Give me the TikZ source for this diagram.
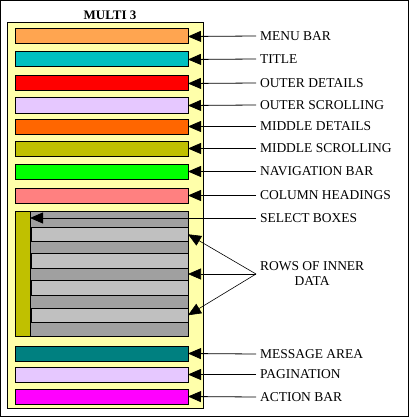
\documentclass[tikz,border=0pt]{standalone}
\usepackage{fontspec}
\setmainfont{Liberation Serif}
\usetikzlibrary{arrows.meta}
\definecolor{panel}{RGB}{255,255,170}
\definecolor{cmenu}{RGB}{255,165,80}
\definecolor{ctitle}{RGB}{0,192,192}
\definecolor{codet}{RGB}{255,0,0}
\definecolor{coscr}{RGB}{230,200,255}
\definecolor{cmdet}{RGB}{255,102,0}
\definecolor{cmscr}{RGB}{192,192,0}
\definecolor{cnav}{RGB}{0,255,0}
\definecolor{ccol}{RGB}{255,128,128}
\definecolor{cdark}{RGB}{160,160,160}
\definecolor{clight}{RGB}{192,192,192}
\definecolor{cmsg}{RGB}{0,128,128}
\definecolor{cpag}{RGB}{230,200,255}
\definecolor{cact}{RGB}{255,0,255}
\tikzset{
  bar/.style={draw=black, line width=1pt, anchor=north west, minimum width=173pt, minimum height=15pt, inner sep=0pt, outer sep=0pt},
  lbl/.style={anchor=west, inner sep=0pt, outer sep=0pt, font=\fontsize{13.5}{15}\selectfont},
  arr/.style={draw=black, line width=0.8pt, -{Triangle[length=13pt,width=11pt]}},
  thin arr/.style={draw=black, line width=0.6pt, -{Triangle[length=13pt,width=11pt]}},
  lightrow/.style={fill=clight, draw=black, line width=1pt, anchor=north west, minimum width=157pt, minimum height=14.5pt, inner sep=0pt, outer sep=0pt},
}
\begin{document}
\begin{tikzpicture}[x=1pt,y=-1pt]
\useasboundingbox (0,0) rectangle (415,417);
% outer frame
\draw[line width=1pt] (0.5,0.5) rectangle (408,416);
\node[font=\bfseries\fontsize{13}{14}\selectfont, inner sep=0pt] (title) at (110,15) {MULTI 3};
% panel
\draw[fill=panel, line width=1pt] (7,23) rectangle (203,408);
% bars
\node[bar, fill=cmenu] (mb) at (15,29) {};
\node[bar, fill=ctitle] (ti) at (15,52) {};
\node[bar, fill=codet] (od) at (15,76) {};
\node[bar, fill=coscr] (os) at (15,98) {};
\node[bar, fill=cmdet] (md) at (15,119) {};
\node[bar, fill=cmscr] (ms) at (15,141) {};
\node[bar, fill=cnav] (nb) at (15,164) {};
\node[bar, fill=ccol] (ch) at (15,188) {};
% rows block
\node[draw=black, line width=1pt, fill=cdark, anchor=north west, minimum width=173pt, minimum height=125pt, inner sep=0pt, outer sep=0pt] (blk) at (15,211) {};
\node[draw=black, line width=1pt, fill=cmscr, anchor=north west, minimum width=15pt, minimum height=125pt, inner sep=0pt, outer sep=0pt] (strip) at (15,211) {};
\node[lightrow] (r1) at (31,227) {};
\node[lightrow] (r2) at (31,253.5) {};
\node[lightrow] (r3) at (31,280.5) {};
\node[lightrow] (r4) at (31,308) {};
\draw[line width=1.5pt] (31,227) -- (31,241.5) (31,253.5) -- (31,268) (31,280.5) -- (31,295) (31,308) -- (31,322.5);
\coordinate (r12) at (188,274);
% bottom bars
\node[bar, fill=cmsg] (ma) at (15,346) {};
\node[bar, fill=cpag] (pg) at (15,367) {};
\node[bar, fill=cact] (ab) at (15,389) {};
% labels
\node[lbl] (lmb) at (256,36) {\hspace{4pt}MENU BAR};
\node[lbl] (lti) at (256,59) {\hspace{4pt}TITLE};
\node[lbl] (lod) at (256,83) {\hspace{4pt}OUTER DETAILS};
\node[lbl] (los) at (256,105) {\hspace{4pt}OUTER SCROLLING};
\node[lbl] (lmd) at (256,126.5) {\hspace{4pt}MIDDLE DETAILS};
\node[lbl] (lms) at (256,148.5) {\hspace{4pt}MIDDLE SCROLLING};
\node[lbl] (lnb) at (256,171.5) {\hspace{4pt}NAVIGATION BAR};
\node[lbl] (lch) at (256,195.5) {\hspace{4pt}COLUMN HEADINGS};
\node[lbl] (lsb) at (256,218) {\hspace{4pt}SELECT BOXES};
\node[lbl, align=center] (lrw) at (256,274) {\hspace{4pt}ROWS OF INNER\\\hspace{4pt}DATA};
\node[lbl] (lma) at (256,354) {\hspace{4pt}MESSAGE AREA};
\node[lbl] (lpg) at (256,374.5) {\hspace{4pt}PAGINATION};
\node[lbl] (lab) at (256,397) {\hspace{4pt}ACTION BAR};
% connectors
\draw[arr] (lmb.west) -- (mb.east);
\draw[arr] (lti.west) -- (ti.east);
\draw[arr] (lod.west) -- (od.east);
\draw[arr] (los.west) -- (os.east);
\draw[arr] (lmd.west) -- (md.east);
\draw[arr] (lms.west) -- (ms.east);
\draw[arr] (lnb.west) -- (nb.east);
\draw[arr] (lch.west) -- (ch.east);
\draw[arr] (lsb.west) -- (lsb.west -| strip.east);
\draw[thin arr] (lrw.west) -- (r1.east);
\draw[thin arr] (lrw.west) -- (r12);
\draw[thin arr] (lrw.west) -- (r4.east);
\draw[arr] (lma.west) -- (ma.east);
\draw[arr] (lpg.west) -- (pg.east);
\draw[arr] (lab.west) -- (ab.east);
\end{tikzpicture}
\end{document}
